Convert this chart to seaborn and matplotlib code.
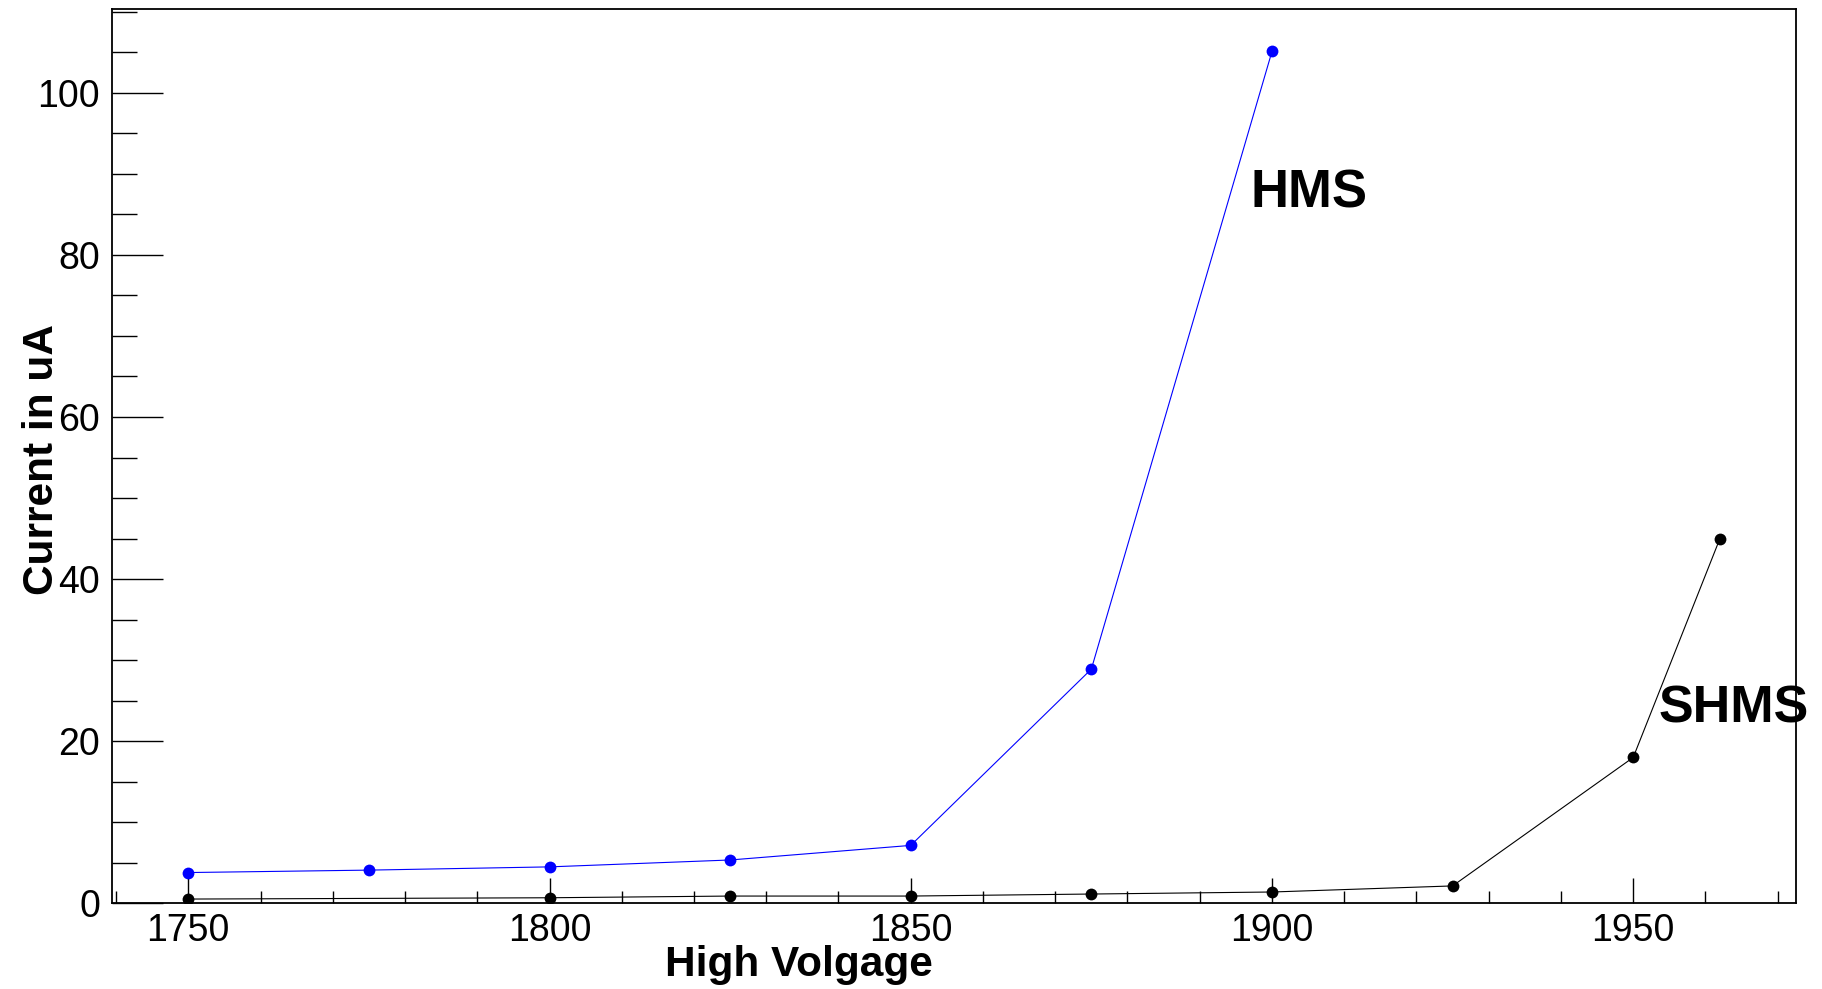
import matplotlib
matplotlib.use("Agg")
import matplotlib.pyplot as plt
from matplotlib.ticker import MultipleLocator
import seaborn as sns
import pandas as pd

# Datos
hms_voltage = [1750, 1775, 1800, 1825, 1850, 1875, 1900]
hms_current = [3.8, 4.1, 4.5, 5.35, 7.15, 28.9, 105.1]

shms_voltage = [1750, 1800, 1825, 1850, 1875, 1900, 1925, 1950, 1962]
shms_current = [0.53, 0.69, 0.9, 0.9, 1.15, 1.4, 2.15, 18.0, 45.0]

x_label = "High Volgage"
y_label = "Current in uA"

df_hms = pd.DataFrame({"hv": hms_voltage, "current": hms_current})
df_shms = pd.DataFrame({"hv": shms_voltage, "current": shms_current})

sns.set_style("white")
plt.rcParams["font.family"] = ["Liberation Sans", "DejaVu Sans"]
plt.rcParams["text.color"] = "black"
plt.rcParams["axes.labelcolor"] = "black"
plt.rcParams["xtick.color"] = "black"
plt.rcParams["ytick.color"] = "black"

fig = plt.figure(figsize=(18.22, 9.89), dpi=100)
ax = fig.add_axes([0.0613, 0.0866, 0.9247, 0.9040])

sns.lineplot(data=df_hms, x="hv", y="current", ax=ax, color="#0000ff",
             linewidth=0.8, marker="o", markersize=8.5, markeredgewidth=0,
             estimator=None, sort=False)
sns.lineplot(data=df_shms, x="hv", y="current", ax=ax, color="black",
             linewidth=0.8, marker="o", markersize=8.5, markeredgewidth=0,
             estimator=None, sort=False)

ax.set_xlim(1739.4, 1972.6)
ax.set_ylim(0, 110.3)

ax.xaxis.set_major_locator(MultipleLocator(50))
ax.xaxis.set_minor_locator(MultipleLocator(10))
ax.yaxis.set_major_locator(MultipleLocator(20))
ax.yaxis.set_minor_locator(MultipleLocator(5))

for s in ax.spines.values():
    s.set_color("black")
    s.set_linewidth(1.3)

ax.tick_params(axis="both", which="both", direction="in", color="black",
               labelcolor="black", width=1.0, top=False, right=False,
               left=True, bottom=True)
ax.tick_params(axis="y", which="major", length=36.5, pad=8.5, labelsize=27)
ax.tick_params(axis="y", which="minor", length=18)
ax.tick_params(axis="x", which="major", length=18, pad=7, labelsize=27)
ax.tick_params(axis="x", which="minor", length=9)

ax.set_xlabel(x_label, fontsize=30.5, fontweight="bold", va="baseline")
ax.set_ylabel(y_label, fontsize=30.5, fontweight="bold", va="baseline")
ax.xaxis.set_label_coords(0.408, -0.0815)
ax.yaxis.set_label_coords(-0.0348, 0.496)

ax.text(1897, 85.8, "HMS", fontsize=38, fontweight="bold", va="baseline")
ax.text(1953.5, 22.3, "SHMS", fontsize=37.5, fontweight="bold", va="baseline",
        clip_on=False)

fig.savefig("out.png", dpi=100)
